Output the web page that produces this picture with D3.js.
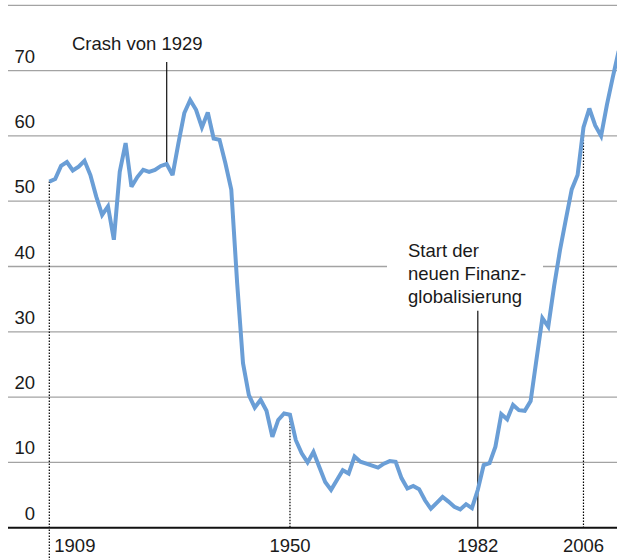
<!DOCTYPE html>
<html>
<head>
<meta charset="utf-8">
<script src="https://cdn.jsdelivr.net/npm/d3@7"></script>
<style>
  html, body { margin: 0; padding: 0; background: #fff; }
  svg text { font-family: "Liberation Sans", Arial, Helvetica, sans-serif; fill: #1a1a1a; }
</style>
</head>
<body>
<svg id="chart" width="617" height="560"></svg>
<script>
// Data (one point per entry, evenly spaced)
const years = [
  1909, 1910, 1911, 1912, 1913, 1914, 1915, 1916, 1917, 1918,
  1919, 1920, 1921, 1922, 1923, 1924, 1925, 1926, 1927, 1928,
  1929, 1930, 1931, 1932, 1933, 1934, 1935, 1936, 1937, 1938,
  1939, 1940, 1941, 1942, 1943, 1944, 1945, 1946, 1947, 1948,
  1949, 1950, 1951, 1952, 1953, 1954, 1955, 1956, 1957, 1958,
  1959, 1960, 1961, 1962, 1963, 1964, 1965, 1966, 1967, 1968,
  1969, 1970, 1971, 1972, 1973, 1974, 1975, 1976, 1977, 1978,
  1979, 1980, 1981, 1982, 1983, 1984, 1985, 1986, 1987, 1988,
  1989, 1990, 1991, 1992, 1993, 1994, 1996, 1998, 2000, 2002,
  2004, 2006, 2007, 2008, 2009, 2010, 2011, 2012
];
const values = [
  53.0, 53.4, 55.4, 56.0, 54.7, 55.3, 56.2, 54.0, 50.7, 47.9,
  49.2, 44.1, 54.5, 58.9, 52.2, 53.7, 54.8, 54.5, 54.8, 55.4,
  55.7, 54.0, 58.9, 63.5, 65.5, 64.0, 61.3, 63.6, 59.6, 59.4,
  55.8, 51.8, 37.5, 25.2, 20.3, 18.4, 19.6, 17.9, 13.9, 16.5,
  17.5, 17.3, 13.4, 11.4, 10.0, 11.6, 9.3, 7.0, 5.8, 7.3,
  8.8, 8.3, 10.9, 10.1, 9.8, 9.5, 9.2, 9.8, 10.2, 10.1,
  7.6, 6.0, 6.4, 5.9, 4.2, 2.9, 3.8, 4.7, 4.0, 3.2,
  2.8, 3.6, 3.0, 5.8, 9.6, 9.9, 12.4, 17.4, 16.6, 18.8,
  18.0, 17.9, 19.4, 25.8, 32.1, 30.8, 37.0, 42.5, 47.2, 51.8,
  54.0, 61.3, 64.2, 61.6, 60.0, 64.8, 69.0, 73.0
];
const yTicks = [0, 10, 20, 30, 40, 50, 60, 70];
const xTickYears = [1909, 1950, 1982, 2006];
const crashYear = 1929;
const startYear = 1982;
const crashLabel = "Crash von 1929";
const startLabel = ["Start der", "neuen Finanz-", "globalisierung"];

const data = years.map((y, i) => ({ year: y, value: values[i] }));
const byYear = new Map(data.map((d) => [d.year, d.value]));

const width = 617, height = 560;
const svg = d3.select("#chart");

const x = d3.scalePoint()
  .domain(years)
  .range([49.3, 49.3 + (years.length - 1) * 5.87]);

const y = d3.scaleLinear()
  .domain([0, 80])
  .range([527.7, 5.3]);

// Horizontal grid lines (incl. the unlabeled top one)
const gridGroup = svg.append("g").attr("class", "grid");
gridGroup.selectAll("line")
  .data(yTicks.filter((t) => t > 0).concat([80]))
  .join("line")
  .attr("x1", 8)
  .attr("x2", width)
  .attr("y1", (d) => y(d))
  .attr("y2", (d) => y(d))
  .attr("stroke", "#a3a3a3")
  .attr("stroke-width", 1.3);

// Y labels sit above their grid line
svg.append("g")
  .selectAll("text")
  .data(yTicks)
  .join("text")
  .attr("x", 35)
  .attr("y", (d) => y(d) - 8)
  .attr("text-anchor", "end")
  .style("font-size", "18.5px")
  .text((d) => d);

// White knock-out behind the annotation text
svg.append("rect")
  .attr("x", 387)
  .attr("y", 240)
  .attr("width", 156)
  .attr("height", 70)
  .attr("fill", "#fff");

// Dotted year markers
const dotted = svg.append("g").attr("class", "year-markers");
xTickYears.filter((yr) => yr !== startYear).forEach((yr) => {
  dotted.append("line")
    .attr("x1", x(yr))
    .attr("x2", x(yr))
    .attr("y1", y(byYear.get(yr)))
    .attr("y2", yr === 1909 ? height : y(0))
    .attr("stroke", "#000")
    .attr("stroke-width", 1.2)
    .attr("stroke-dasharray", "1.5,1.5");
});

// Bottom axis line
svg.append("line")
  .attr("x1", 8)
  .attr("x2", width)
  .attr("y1", y(0))
  .attr("y2", y(0))
  .attr("stroke", "#111")
  .attr("stroke-width", 2);

// Annotation lines
svg.append("line")
  .attr("x1", x(crashYear))
  .attr("x2", x(crashYear))
  .attr("y1", 62)
  .attr("y2", y(byYear.get(crashYear)))
  .attr("stroke", "#111")
  .attr("stroke-width", 1.2);

svg.append("line")
  .attr("x1", x(startYear))
  .attr("x2", x(startYear))
  .attr("y1", 310.7)
  .attr("y2", y(0))
  .attr("stroke", "#111")
  .attr("stroke-width", 1.2);

// The series line
const line = d3.line()
  .x((d) => x(d.year))
  .y((d) => y(d.value));

svg.append("path")
  .datum(data)
  .attr("d", line)
  .attr("fill", "none")
  .attr("stroke", "#6a9ed6")
  .attr("stroke-width", 4)
  .attr("stroke-linejoin", "miter")
  .attr("stroke-miterlimit", 3);

// X labels (1909 sits to the right of its marker)
svg.append("g")
  .selectAll("text")
  .data(xTickYears)
  .join("text")
  .attr("x", (d) => (d === 1909 ? x(d) + 5 : x(d)))
  .attr("y", 551.7)
  .attr("text-anchor", (d) => (d === 1909 ? "start" : "middle"))
  .style("font-size", "18.5px")
  .text((d) => d);

// Annotation texts
svg.append("text")
  .attr("x", 72)
  .attr("y", 50)
  .style("font-size", "18.5px")
  .text(crashLabel);

svg.append("text")
  .attr("x", 408)
  .attr("y", 256.7)
  .style("font-size", "18.5px")
  .selectAll("tspan")
  .data(startLabel)
  .join("tspan")
  .attr("x", 408)
  .attr("dy", (d, i) => (i === 0 ? 0 : 23))
  .text((d) => d);
</script>
</body>
</html>
